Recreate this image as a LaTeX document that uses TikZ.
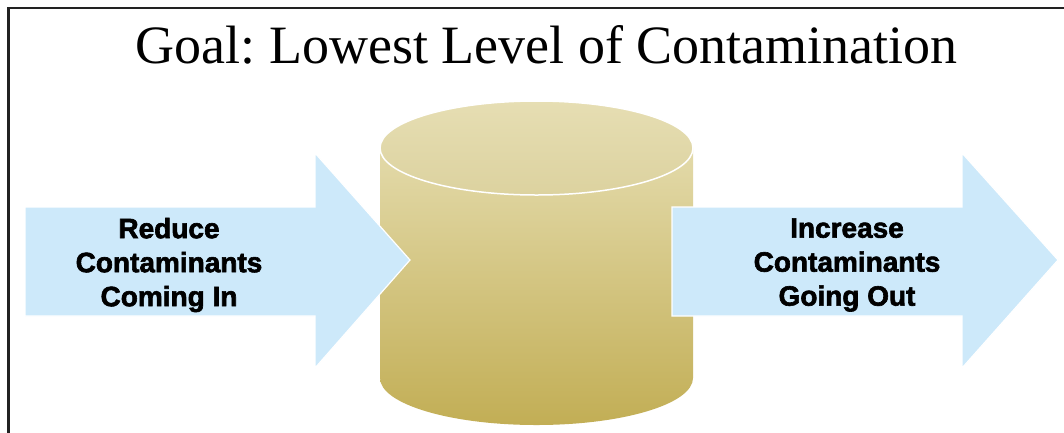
\documentclass[tikz,border=0pt]{standalone}
\usepackage{fontspec}
\setmainfont{Liberation Serif}
\frenchspacing
\newfontfamily\heavyfont[BoldFeatures={FakeBold=2.2}]{Liberation Sans}
\definecolor{arrowblue}{HTML}{CDE9FA}
\definecolor{cyltop}{HTML}{E3DAAA}
\definecolor{cylbot}{HTML}{C2AE55}
\definecolor{lidtop}{HTML}{E6DEB3}
\definecolor{lidbot}{HTML}{DCD29F}
\definecolor{framegray}{HTML}{222222}
\tikzset{
  flowarrow/.style={fill=arrowblue, draw=white, line width=1.2pt, line join=miter},
  arrowlabel/.style={font=\heavyfont\bfseries\fontsize{28}{34}\selectfont, align=center, inner sep=0pt, text=black},
  titlelabel/.style={font=\fontsize{54}{60}\selectfont, inner sep=0pt, anchor=base},
}
\begin{document}
\begin{tikzpicture}[x=1pt,y=-1pt]
\useasboundingbox (0,0) rectangle (1064,432);
\clip (0,0) rectangle (1064,432);
\fill[white] (0,0) rectangle (1064,432);
% frame
\draw[framegray, line width=2.8pt] (8.5,450) -- (8.5,8) -- (1080,8);
% title
\node[titlelabel] (title) at (546.5,63) {Goal: Lowest Level of Contamination};
% cylinder body
\shade[top color=cyltop, bottom color=cylbot]
  (380,148) -- (380,378) arc[start angle=180, end angle=360, x radius=156.5, y radius=-47] -- (693,148) -- cycle;
% cylinder lid
\shade[top color=lidtop, bottom color=lidbot, draw=white, line width=1.5pt]
  (536.5,148) ellipse[x radius=156.5, y radius=47];
\coordinate (cyl) at (536.5,260);
% left arrow
\draw[flowarrow] (25,207) -- (315,207) -- (315,153) -- (410,260) -- (315,368) -- (315,316) -- (25,316) -- cycle;
% right arrow
\draw[flowarrow] (672,207) -- (962,207) -- (962,153) -- (1058,260) -- (962,368) -- (962,316) -- (672,316) -- cycle;
\node[arrowlabel] (inlabel) at (169,265) {Reduce\\Contaminants\\Coming In};
\node[arrowlabel] (outlabel) at (847,265) {Increase\\Contaminants\\Going Out};
\end{tikzpicture}
\end{document}
